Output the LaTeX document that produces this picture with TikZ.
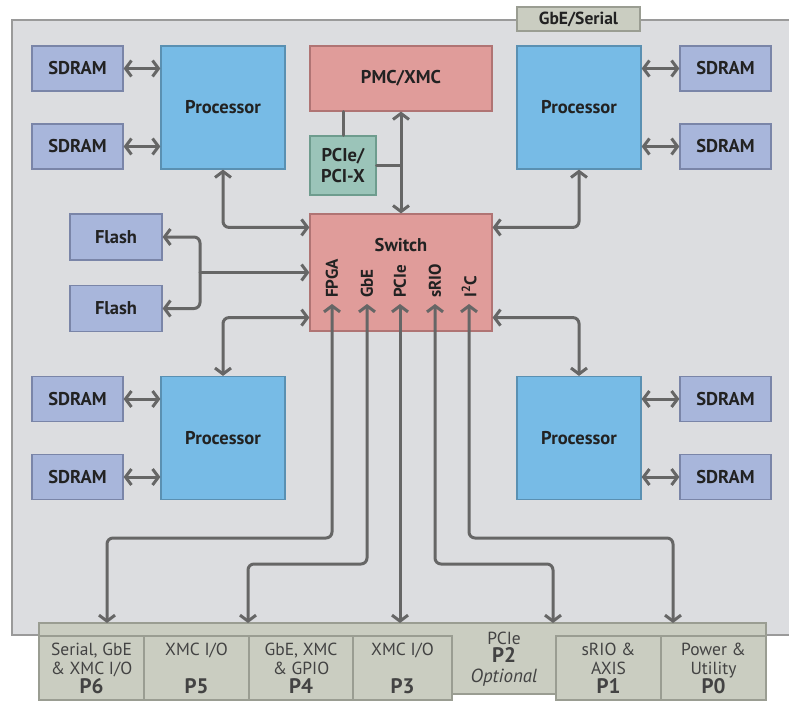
\documentclass[tikz,border=0pt]{standalone}
\usepackage{fontspec}
\setmainfont{PT Sans}
\usetikzlibrary{arrows.meta, positioning, calc}
\definecolor{panelfill}{HTML}{DCDDE0}
\definecolor{panelline}{HTML}{9A9A9A}
\definecolor{memfill}{HTML}{A8B6DB}
\definecolor{memline}{HTML}{7A85A8}
\definecolor{cpufill}{HTML}{77BBE6}
\definecolor{cpuline}{HTML}{5A90B2}
\definecolor{swfill}{HTML}{E09C9A}
\definecolor{swline}{HTML}{B07474}
\definecolor{brfill}{HTML}{9BC4B9}
\definecolor{brline}{HTML}{6E9C8E}
\definecolor{confill}{HTML}{CACDC1}
\definecolor{conline}{HTML}{9A9D92}
\definecolor{wire}{HTML}{666666}
\definecolor{txt}{HTML}{222222}
\newcommand{\pnumfont}{\fontsize{21}{20}\selectfont\bfseries}

\begin{document}
\begin{tikzpicture}[x=1pt, y=-1pt,
  lbl/.style={inner sep=0pt, text=txt, font=\fontsize{18.5}{20}\selectfont\bfseries},
  blk/.style={lbl, draw, line width=1.2pt},
  mem/.style={blk, fill=memfill, draw=memline, minimum width=91pt, minimum height=45pt},
  cpu/.style={blk, fill=cpufill, draw=cpuline, minimum width=124pt, minimum height=123pt},
  sw/.style={blk, fill=swfill, draw=swline},
  cell/.style={draw=conline, fill=confill, line width=1.2pt, inner sep=0pt,
    minimum width=#1, minimum height=64pt, align=center, text=txt!85,
    font=\fontsize{17.5}{19.5}\selectfont},
  cell/.default=105pt,
  pin/.style={rotate=90, anchor=west, inner sep=0pt, text=txt,
    font=\fontsize{17}{18}\selectfont\bfseries},
  link/.style={draw=wire, line width=3pt, line cap=round, rounded corners=6pt},
  arr/.style={link, -{Straight Barb[length=6pt, width=16pt]}},
  arrs/.style={link, {Straight Barb[length=6pt, width=16pt]}-{Straight Barb[length=6pt, width=16pt]}},
]
  \useasboundingbox (0,0) rectangle (789,701);

  % board
  \fill[panelfill] (12,20) rectangle (795,635);
  \draw[panelline, line width=1.2pt] (795,20) -- (12,20) -- (12,635) -- (795,635);
  \node[blk, fill=confill, draw=conline, minimum width=123pt, minimum height=24pt,
    font=\fontsize{17.5}{18}\selectfont\bfseries] (gbe) at (578.5,19) {GbE/Serial};

  % memories and processors
  \node[mem] (sdA) at (77.5,68.5) {SDRAM};
  \node[mem] (sdB) at (77.5,146.5) {SDRAM};
  \node[cpu] (cpuTL) at (223,107.5) {Processor};
  \node[cpu] (cpuTR) at (579,107.5) {Processor};
  \node[mem] (sdC) at (725.5,68.5) {SDRAM};
  \node[mem] (sdD) at (725.5,146.5) {SDRAM};
  \node[cpu] (cpuBL) at (223,438) {Processor};
  \node[cpu] (cpuBR) at (579,438) {Processor};
  \node[mem] (sdE) at (77.5,399) {SDRAM};
  \node[mem] (sdF) at (77.5,477) {SDRAM};
  \node[mem] (sdG) at (725.5,399) {SDRAM};
  \node[mem] (sdH) at (725.5,477) {SDRAM};
  \node[mem, minimum width=92pt, minimum height=46pt] (flA) at (116,237) {Flash};
  \node[mem, minimum width=92pt, minimum height=46pt] (flB) at (116,308.5) {Flash};

  % switch and mezzanine
  \node[sw, minimum width=182pt, minimum height=65pt] (pmc) at (401,78.5) {PMC/XMC};
  \node[blk, fill=brfill, draw=brline, minimum width=66pt, minimum height=59pt,
    align=center, font=\fontsize{18.5}{21}\selectfont\bfseries] (bridge) at (343,165.5) {PCIe/\\PCI-X};
  \node[sw, minimum width=182pt, minimum height=117pt] (switch) at (401,272.5) {};
  \node[lbl, anchor=base] (swlbl) at (401,251) {Switch};
  \node[pin] (lfpga) at (332,298) {FPGA};
  \node[pin] (lgbe)  at (367,298) {GbE};
  \node[pin] (lpcie) at (400,298) {PCIe};
  \node[pin] (lsrio) at (435,298) {sRIO};
  \node[pin] (li2c)  at (469,298) {I\textsuperscript{2}C};

  % backplane connectors
  \draw[conline, fill=confill, line width=1.2pt] (39,623) -- (766,623) -- (766,636) -- (556,636)
    -- (556,694) -- (452,694) -- (452,636) -- (39,636) -- cycle;
  \node[cell] (p6) at (91.5,668) {Serial, GbE\\\& XMC I/O\\[-1pt]{\pnumfont P6}};
  \node[cell] (p5) at (196.5,668) {XMC I/O\\\mbox{}\\[-1pt]{\pnumfont P5}};
  \node[cell=104pt] (p4) at (301,668) {GbE, XMC\\\& GPIO\\[-1pt]{\pnumfont P4}};
  \node[cell=99pt] (p3) at (402.5,668) {XMC I/O\\\mbox{}\\[-1pt]{\pnumfont P3}};
  \node[cell, draw=none, fill=none] (p2) at (504,659) {PCIe\\[-1pt]{\pnumfont P2}\\{\fontsize{19}{20}\selectfont\itshape Optional}};
  \node[cell] (p1) at (608.5,668) {sRIO \&\\AXIS\\[-1pt]{\pnumfont P1}};
  \node[cell] (p0) at (713.5,668) {Power \&\\Utility\\[-1pt]{\pnumfont P0}};
  \coordinate (tP6) at (107,623);
  \coordinate (tP4) at (248,623);
  \coordinate (tP3) at (400,623);
  \coordinate (tP2) at (553,623);
  \coordinate (tP0) at (673,623);

  % memory buses
  \foreach \m/\c in {sdA/cpuTL, sdB/cpuTL, sdE/cpuBL, sdF/cpuBL}
    \draw[arrs] (\m.east) -- (\m.east -| \c.west);
  \foreach \m/\c in {sdC/cpuTR, sdD/cpuTR, sdG/cpuBR, sdH/cpuBR}
    \draw[arrs] (\m.west) -- (\m.west -| \c.east);

  % processors to switch
  \draw[arrs] (cpuTL.south) |- ([yshift=-14pt]switch.north west);
  \draw[arrs] (cpuTR.south) |- ([yshift=-14pt]switch.north east);
  \draw[arrs] (cpuBL.north) |- ([yshift=14pt]switch.south west);
  \draw[arrs] (cpuBR.north) |- ([yshift=14pt]switch.south east);

  % flash
  \coordinate (fjoin) at (200,272.5);
  \draw[arrs] (flA.east) -| (fjoin) |- (flB.east);
  \draw[arr] (fjoin) -- (switch.west);

  % mezzanine
  \draw[arrs] (pmc.south) -- (switch.north);
  \draw[link] (bridge.north) -- (bridge.north |- pmc.south);
  \draw[link] (bridge.east) -- (bridge.east -| pmc.south);

  % switch to backplane
  \draw[arrs] ([yshift=-6pt]lfpga.west) -- ++(0,234) -| (tP6);
  \draw[arrs] ([yshift=-6pt]lgbe.west) -- ++(0,260) -| (tP4);
  \draw[arrs] ([yshift=-6pt]lpcie.west) -- (tP3);
  \draw[arrs] ([yshift=-6pt]lsrio.west) -- ++(0,260) -| (tP2);
  \draw[arrs] ([yshift=-6pt]li2c.west) -- ++(0,234) -| (tP0);
\end{tikzpicture}
\end{document}
